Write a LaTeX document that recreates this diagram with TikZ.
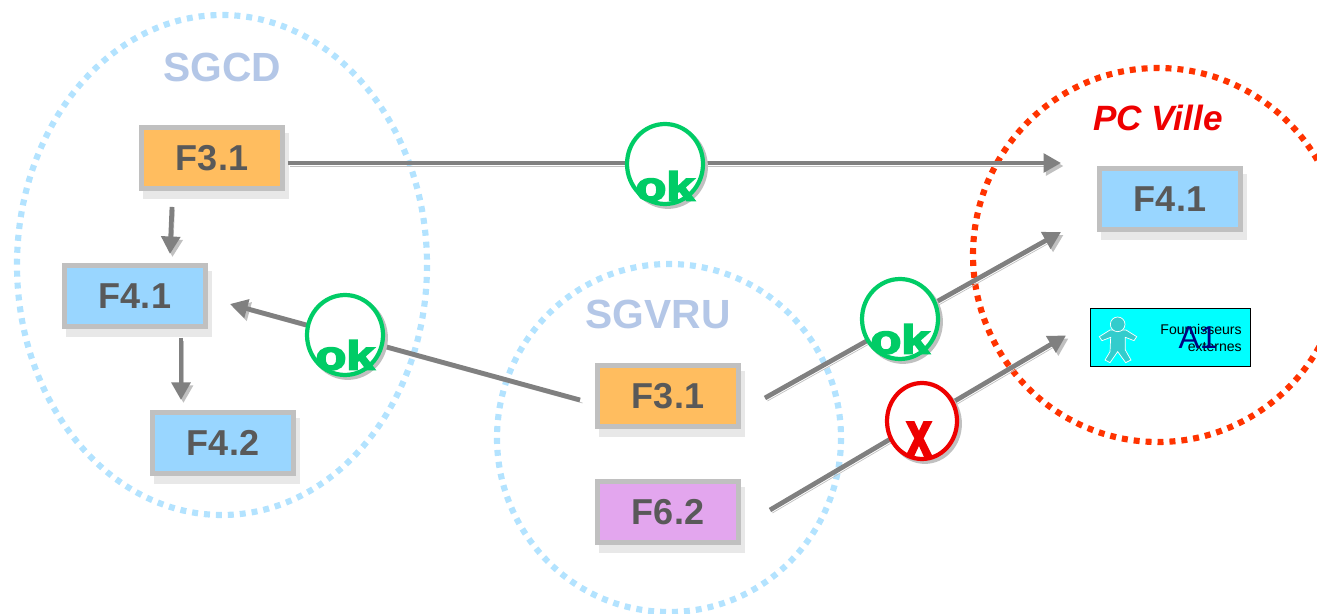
\documentclass[tikz,border=0pt]{standalone}
\usepackage{fontspec}
\setmainfont{Liberation Sans}
\newfontfamily\heavyfont[FakeBold=4]{Liberation Sans Bold}
\usepackage{tikz}
\usetikzlibrary{arrows.meta,shadows,shapes.geometric}

\definecolor{boxorange}{HTML}{FFBD5F}
\definecolor{boxblue}{HTML}{99D6FF}
\definecolor{boxviolet}{HTML}{E3A6EE}
\definecolor{boxframe}{HTML}{C0C0C0}
\definecolor{boxshade}{HTML}{E8E8E8}
\definecolor{boxtext}{HTML}{595959}
\definecolor{linegray}{HTML}{808080}
\definecolor{ringblue}{HTML}{B3E3FF}
\definecolor{ringred}{HTML}{FF3300}
\definecolor{titleblue}{HTML}{B4C7E7}
\definecolor{okgreen}{HTML}{00CC66}
\definecolor{nored}{HTML}{EE0000}
\definecolor{personfill}{HTML}{33CCCC}
\definecolor{externfill}{HTML}{00FFFF}
\definecolor{externid}{HTML}{000080}

\tikzset{
  funcbox/.style={draw=boxframe,line width=2.8pt,minimum width=2.82cm,minimum height=1.22cm,
    inner sep=0pt,text=boxtext,font=\fontsize{20.5}{24}\selectfont\bfseries,
    drop shadow={shadow xshift=2.3pt,shadow yshift=-4.6pt,fill=boxshade,draw=boxshade,opacity=1}},
  ring/.style={line width=3.5pt,dash pattern=on 3.4pt off 3.4pt},
  flow/.style={draw=linegray,line width=2.7pt,-{Triangle[length=10pt,width=10.5pt]},
    preaction={draw=boxframe,transform canvas={xshift=1.4pt,yshift=-1.7pt}}},
  verdict/.style={ellipse,draw,fill=white,line width=2.4pt,inner sep=0pt,
    drop shadow={shadow xshift=1.6pt,shadow yshift=-1.6pt,fill=boxframe,draw=boxframe,opacity=1}},
  ringtitle/.style={text=titleblue,font=\fontsize{23.2}{28}\selectfont\bfseries},
  mark text/.style={font=\heavyfont\fontsize{25.7}{30}\selectfont,inner sep=0pt}
}

\begin{document}
\begin{tikzpicture}[x=0.02cm,y=-0.02cm]
  \useasboundingbox (0,0) rectangle (1317,614);
  \clip (0,0) rectangle (1317,614);

  % the three groups
  \draw[ring,draw=ringblue] (222,265) ellipse [x radius=205,y radius=250];
  \draw[ring,draw=ringblue] (669,438) ellipse [x radius=172,y radius=174];
  \draw[ring,draw=ringred] (1158,255) ellipse [x radius=185,y radius=187];

  \node[ringtitle] (sgcd) at (222,67) {SGCD};
  \node[ringtitle] (sgvru) at (658,314) {SGVRU};
  \node[text=nored,font=\fontsize{20}{24}\selectfont\bfseries\itshape] (pcville) at (1158,118) {PC Ville};

  \node[funcbox,fill=boxorange] (sgcdA) at (212,158) {F3.1};
  \node[funcbox,fill=boxblue] (sgcdB) at (135,296) {F4.1};
  \node[funcbox,fill=boxblue] (sgcdC) at (223,443) {F4.2};
  \node[funcbox,fill=boxorange] (sgvruA) at (668,396) {F3.1};
  \node[funcbox,fill=boxviolet] (sgvruB) at (668,512) {F6.2};
  \node[funcbox,fill=boxblue] (pcA) at (1170,199) {F4.1};

  % external suppliers
  \node[draw=black,fill=externfill,line width=0.6pt,minimum width=3.2cm,minimum height=1.16cm,inner sep=0pt] (extern) at (1170.5,337.5) {};
  \begin{scope}[shift={(1060,280)},x=0.00667cm,y=-0.00667cm]
    \draw[white,fill=personfill,line width=0.4pt] (118,170) -- (150,150) -- (198,150) -- (230,170)
      -- (222,182) -- (196,172) -- (196,210) -- (213,240) -- (197,248) -- (173,215)
      -- (150,248) -- (135,240) -- (150,215) -- (152,172) -- (126,182) -- cycle;
    \draw[white,fill=personfill,line width=0.4pt] (173,133) circle (22);
  \end{scope}
  \node[text=black,font=\fontsize{8}{9.7}\selectfont,align=right,anchor=east,inner sep=0pt] (externtext) at (1242,338) {Fournisseurs\\externes};
  \node[text=externid,font=\fontsize{18}{20}\selectfont,inner sep=0pt] (externlabel) at (1198,338) {A1};

  % flows
  \draw[flow] ([shift={(-40,16)}]sgcdA.south) -- ([shift={(35,-9)}]sgcdB.north);
  \draw[flow] ([shift={(46,9)}]sgcdB.south) -- ([shift={(-42,-10)}]sgcdC.north);
  \draw[flow] ([shift={(3,5)}]sgcdA.east) -- ([shift={(-36,-36)}]pcA.west);
  \draw[flow] ([shift={(-15,4)}]sgvruA.west) -- ([shift={(22,8)}]sgcdB.east);
  \draw[flow] ([shift={(24,2)}]sgvruA.east) -- ([shift={(-36,33)}]pcA.west);
  \draw[flow] ([shift={(29,-2)}]sgvruB.east) -- ([shift={(-24,-2)}]extern.west);

  % verdicts on the flows
  \begin{scope}[every node/.style={verdict,draw=okgreen,minimum width=1.52cm,minimum height=1.6cm}]
    \node (okA) at (665,164) {};
    \node (okB) at (345,335) {};
    \node (okC) at (900,319) {};
  \end{scope}
  \node[verdict,draw=nored,minimum width=1.4cm,minimum height=1.52cm] (noA) at (922,421) {};

  \begin{scope}[every node/.style={mark text,text=okgreen}]
    \node at (665,186) {\scalebox{1.12}[0.9]{ok}};
    \node at (345,355) {\scalebox{1.12}[0.9]{ok}};
    \node at (900,339) {\scalebox{1.12}[0.9]{ok}};
  \end{scope}
  \node[mark text,text=nored] at (919,439) {\scalebox{1}[1.4]{x}};
\end{tikzpicture}
\end{document}
